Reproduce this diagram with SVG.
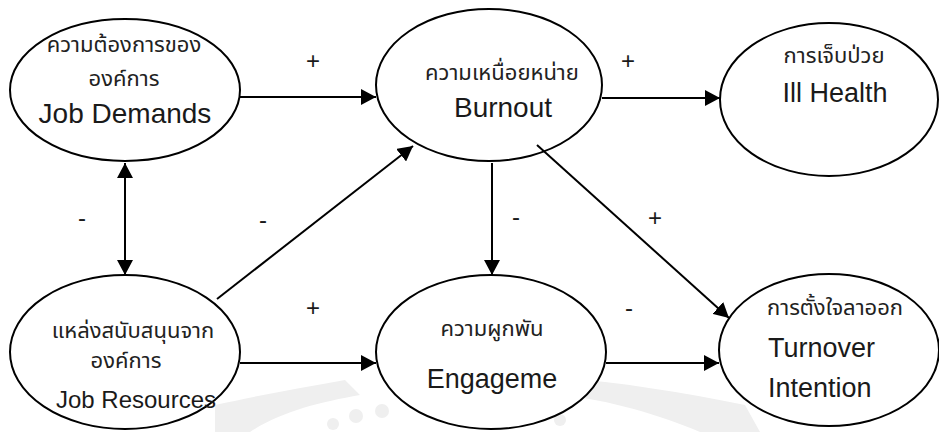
<svg xmlns="http://www.w3.org/2000/svg" width="939" height="432" viewBox="0 0 939 432">
  <defs>
    <marker id="arrow" markerUnits="userSpaceOnUse" markerWidth="15" markerHeight="16" refX="15" refY="8" orient="auto-start-reverse">
      <path d="M0,0 L15,8 L0,16 z" fill="#000"/>
    </marker>
    <style>
      .node ellipse { fill: #fff; stroke: #000; stroke-width: 2; }
      .th { font-family: "Liberation Sans", "Noto Sans Thai", "Noto Sans", sans-serif; font-size: 22px; fill: #222; }
      .en { font-family: "Liberation Sans", Arial, sans-serif; font-size: 27px; fill: #1a1a1a; }
      .sign { font-family: "Liberation Sans", Arial, sans-serif; font-size: 24px; fill: #1a1a1a; text-anchor: middle; }
      .mid { text-anchor: middle; }
      .conn line { stroke: #000; stroke-width: 2; marker-end: url(#arrow); }
      .mark { fill: #efefef; }
    </style>
  </defs>
  <rect width="939" height="432" fill="#fff"/>

  <!-- faint background emblem -->
  <g id="emblem">
    <path class="mark" d="M215,432 L215,405 C260,395 300,388 345,380 L360,395 C320,402 280,412 250,432 Z"/>
    <path class="mark" d="M560,378 C620,382 680,392 745,405 L760,432 L700,432 C660,415 610,400 560,395 Z"/>
    <circle class="mark" cx="333" cy="424" r="6"/>
    <circle class="mark" cx="356" cy="416" r="7"/>
    <circle class="mark" cx="382" cy="411" r="7"/>
    <circle class="mark" cx="560" cy="420" r="6"/>
  </g>

  <g id="job-demands" class="node">
    <ellipse cx="125" cy="90" rx="115" ry="71"/>
    <text class="th mid" x="124" y="52">ความต้องการของ</text>
    <text class="th mid" x="124" y="86">องค์การ</text>
    <text class="en mid" x="125" y="123" style="font-size:28px">Job Demands</text>
  </g>

  <g id="burnout" class="node">
    <ellipse cx="489" cy="85" rx="113" ry="76"/>
    <text class="th mid" x="502" y="80">ความเหนื่อยหน่าย</text>
    <text class="en mid" x="503" y="117" style="font-size:28px">Burnout</text>
  </g>

  <g id="ill-health" class="node">
    <ellipse cx="829" cy="99.5" rx="109" ry="76.5"/>
    <text class="th mid" x="834" y="63">การเจ็บป่วย</text>
    <text class="en mid" x="835" y="102">Ill Health</text>
  </g>

  <g id="job-resources" class="node">
    <ellipse cx="125" cy="352" rx="115" ry="77"/>
    <text class="th mid" x="133" y="338">แหล่งสนับสนุนจาก</text>
    <text class="th mid" x="126" y="368">องค์การ</text>
    <text class="en mid" x="136" y="408" style="font-size:24px">Job Resources</text>
  </g>

  <g id="engagement" class="node">
    <ellipse cx="491" cy="352" rx="115" ry="77"/>
    <text class="th mid" x="492" y="336">ความผูกพัน</text>
    <text class="en mid" x="492" y="388">Engageme</text>
  </g>

  <g id="turnover" class="node">
    <ellipse cx="829" cy="350" rx="110" ry="76"/>
    <text class="th" x="767" y="315">การตั้งใจลาออก</text>
    <text class="en" x="768" y="357">Turnover</text>
    <text class="en" x="768" y="397">Intention</text>
  </g>

  <g id="connectors" class="conn">
    <line x1="240" y1="97" x2="376" y2="97"/>
    <line x1="602" y1="98" x2="720" y2="98"/>
    <line x1="125" y1="163" x2="125" y2="275" style="marker-start:url(#arrow)"/>
    <line x1="217" y1="299" x2="413" y2="146"/>
    <line x1="240" y1="363" x2="376" y2="363"/>
    <line x1="492" y1="163" x2="492" y2="275"/>
    <line x1="537" y1="145" x2="729" y2="318"/>
    <line x1="606" y1="363" x2="719" y2="363"/>
  </g>

  <g id="signs">
    <text class="sign" x="313" y="69">+</text>
    <text class="sign" x="628" y="69">+</text>
    <text class="sign" x="82" y="226">-</text>
    <text class="sign" x="263" y="228">-</text>
    <text class="sign" x="516" y="225">-</text>
    <text class="sign" x="655" y="226">+</text>
    <text class="sign" x="313" y="316">+</text>
    <text class="sign" x="629" y="316">-</text>
  </g>
</svg>
